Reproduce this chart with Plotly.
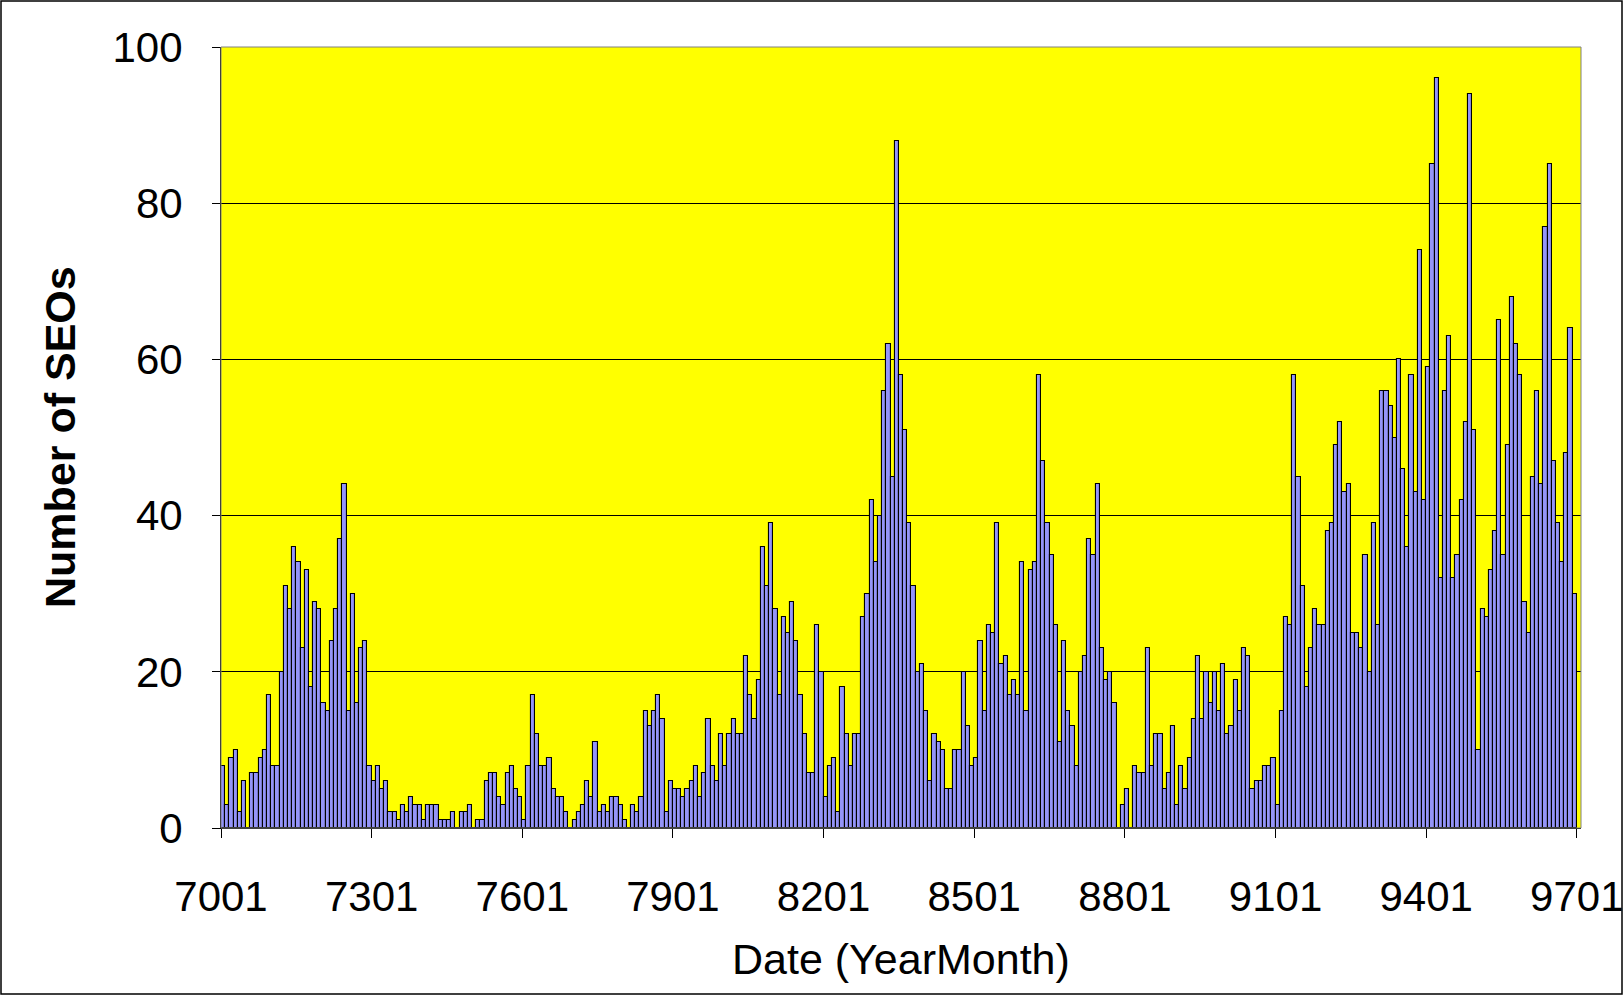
import plotly.graph_objects as go

# Monthly counts of SEOs, January 1970 .. December 1996
seos_1970s = [
    8, 3, 9, 10, 2, 6, 0, 7, 7, 9, 10, 17,        # 1970
    8, 8, 20, 31, 28, 36, 34, 23, 33, 18, 29, 28,  # 1971
    16, 15, 24, 28, 37, 44, 15, 30, 16, 23, 24, 8, # 1972
    6, 8, 5, 6, 2, 2, 1, 3, 2, 4, 3, 3,            # 1973
    1, 3, 3, 3, 1, 1, 1, 2, 0, 2, 2, 3,            # 1974
    0, 1, 1, 6, 7, 7, 4, 3, 7, 8, 5, 4,            # 1975
    1, 8, 17, 12, 8, 8, 9, 5, 4, 4, 2, 0,          # 1976
    1, 2, 3, 6, 4, 11, 2, 3, 2, 4, 4, 3,           # 1977
    1, 0, 3, 2, 4, 15, 13, 15, 17, 14, 2, 6,       # 1978
    5, 5, 4, 5, 6, 8, 4, 7, 14, 8, 6, 12,          # 1979
]
seos_1980s = [
    8, 12, 14, 12, 12, 22, 17, 14, 19, 36, 31, 39,   # 1980
    28, 17, 27, 25, 29, 24, 17, 12, 7, 7, 26, 20,    # 1981
    4, 8, 9, 2, 18, 12, 8, 12, 12, 27, 30, 42,       # 1982
    34, 40, 56, 62, 45, 88, 58, 51, 39, 31, 20, 21,  # 1983
    15, 6, 12, 11, 10, 5, 5, 10, 10, 20, 13, 8,      # 1984
    9, 24, 15, 26, 25, 39, 21, 22, 17, 19, 17, 34,   # 1985
    15, 33, 34, 58, 47, 39, 35, 26, 11, 24, 15, 13,  # 1986
    8, 20, 22, 37, 35, 44, 23, 19, 20, 16, 0, 3,     # 1987
    5, 0, 8, 7, 7, 23, 8, 12, 12, 5, 7, 13,          # 1988
    3, 8, 5, 9, 14, 22, 14, 20, 16, 20, 15, 21,      # 1989
]
seos_1990s = [
    12, 13, 19, 15, 23, 22, 5, 6, 6, 8, 8, 9,        # 1990
    3, 15, 27, 26, 58, 45, 31, 18, 23, 28, 26, 26,   # 1991
    38, 39, 49, 52, 43, 44, 25, 25, 23, 35, 20, 39,  # 1992
    26, 56, 56, 54, 50, 60, 46, 36, 58, 43, 74, 42,  # 1993
    59, 85, 96, 32, 56, 63, 32, 35, 42, 52, 94, 51,  # 1994
    10, 28, 27, 33, 38, 65, 35, 49, 68, 62, 58, 29,  # 1995
    25, 45, 56, 44, 77, 85, 47, 39, 34, 48, 64, 30,  # 1996
]
tick_labels = ["7001", "7301", "7601", "7901", "8201", "8501", "8801", "9101", "9401", "9701"]
y_ticks = [0, 20, 40, 60, 80, 100]

values = seos_1970s + seos_1980s + seos_1990s
months = [f"{70 + i // 12:02d}{i % 12 + 1:02d}" for i in range(len(values))]
xpos = [i + 0.5 for i in range(len(values))]
n_cat = len(values) + 1  # axis runs through 9701
tick_pos = [months.index(t) if t in months else len(values) for t in tick_labels]

W, H = 1624, 997
ML, MR, MT, MB = 221, 43, 47, 169
pw, ph = W - ML - MR, H - MT - MB

fig = go.Figure()
fig.add_trace(go.Bar(
    x=xpos, y=values, width=1, customdata=months,
    marker=dict(color="#9494F8", line=dict(color="black", width=1.1)),
    hovertemplate="%{customdata}: %{y}<extra></extra>",
))

font = "Liberation Sans, Arial, sans-serif"
fig.update_layout(
    width=W, height=H,
    margin=dict(l=ML, r=MR, t=MT, b=MB, autoexpand=False),
    paper_bgcolor="white", plot_bgcolor="#FFFF00",
    bargap=0, showlegend=False,
    font=dict(family=font, size=42, color="black"),
    xaxis=dict(
        range=[0, n_cat], tickmode="array", tickvals=tick_pos, ticktext=tick_labels,
        showgrid=False, zeroline=False, showline=True, linecolor="black", linewidth=1,
        ticks="outside", ticklen=9, tickcolor="black", ticklabelstandoff=23,
        tickfont=dict(size=42), layer="above traces",
    ),
    yaxis=dict(
        range=[0, 100], tickmode="array", tickvals=y_ticks,
        showgrid=True, gridcolor="black", gridwidth=1, zeroline=False,
        showline=True, linecolor="black", linewidth=1,
        ticks="outside", ticklen=8, tickcolor="black", ticklabelstandoff=21,
        tickfont=dict(size=42), layer="above traces",
    ),
    annotations=[
        dict(text="Date (YearMonth)", xref="paper", yref="paper",
             x=0.5, y=-(959 - (MT + ph)) / ph, xanchor="center", yanchor="middle",
             showarrow=False, font=dict(size=43)),
        dict(text="<b>Number of SEOs</b>", xref="paper", yref="paper",
             x=-(ML - 60) / pw, y=(MT + ph - 437) / ph, xanchor="center", yanchor="middle",
             textangle=-90, showarrow=False, font=dict(size=43)),
    ],
    shapes=[
        # plot-area border
        dict(type="rect", xref="paper", yref="paper", x0=0, x1=1, y0=0, y1=1,
             line=dict(color="#808080", width=1), fillcolor="rgba(0,0,0,0)", layer="above"),
        # outer chart frame
        dict(type="rect", xref="paper", yref="paper",
             x0=-(ML - 1) / pw, x1=1 + (MR - 2) / pw,
             y0=-(MB - 3) / ph, y1=1 + (MT - 1) / ph,
             line=dict(color="black", width=1.5), fillcolor="rgba(0,0,0,0)"),
    ],
)

fig.write_html(
    "out.html",
    config={"displayModeBar": False},
    post_script="document.body.style.margin='0';document.body.style.overflow='hidden';",
)
